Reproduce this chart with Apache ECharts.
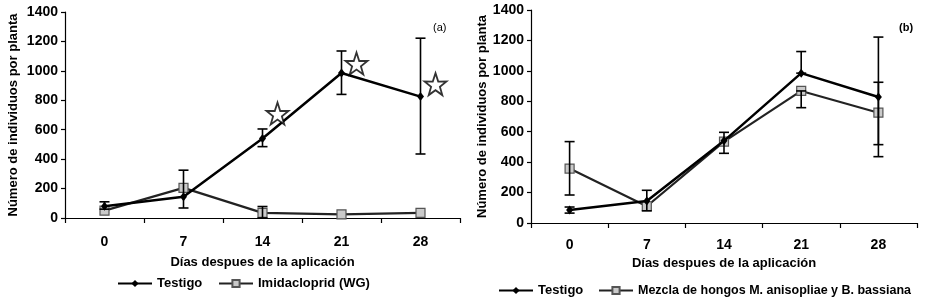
<!DOCTYPE html>
<html><head><meta charset="utf-8">
<script src="https://cdn.jsdelivr.net/npm/echarts@6/dist/echarts.min.js"></script>
<style>html,body{margin:0;padding:0;background:#fff}#c{width:925px;height:300px}</style>
</head><body><div id="c"></div>
<script>
const categories = ['0','7','14','21','28'];
// Panel (a)
const testigoA = [80, 145, 540, 985, 825];
const testigoA_err = [[0,60,110],[2,485,605],[3,840,1135],[4,435,1222]];
const imidA = [50, 205, 35, 25, 35];
const imidA_err = [[1,68,325],[2,0,78]];
const starsA = [[2,710],[3,1050],[4,910]];
// Panel (b)
const testigoB = [85, 145, 540, 985, 828];
const testigoB_err = [[0,65,105],[3,985,1127],[4,515,1222]];
const mezclaB = [358, 110, 535, 868, 725];
const mezclaB_err = [[0,184,535],[1,80,215],[2,458,596],[3,758,868],[4,436,925]];

const FONT = 'Liberation Sans, Arial, sans-serif';
const STAR = 'path://M50,0 L61.8,35.1 L97.6,34.5 L69,56.9 L79.4,90.9 L50,70.5 L20.6,90.9 L31,56.9 L2.4,34.5 L38.2,35.1 Z';

function errSeries(data, xi, yi){
  return {type:'custom', xAxisIndex:xi, yAxisIndex:yi, data:data, z:5, silent:true,
    encode:{x:0,y:[1,2]},
    renderItem:function(params, api){
      const x = api.value(0), lo = api.value(1), hi = api.value(2);
      const a = api.coord([x, lo]), b = api.coord([x, hi]);
      const w = 5, st = {stroke:'#000', lineWidth:1.6};
      return {type:'group', children:[
        {type:'line', shape:{x1:a[0],y1:a[1],x2:b[0],y2:b[1]}, style:st},
        {type:'line', shape:{x1:a[0]-w,y1:a[1],x2:a[0]+w,y2:a[1]}, style:st},
        {type:'line', shape:{x1:b[0]-w,y1:b[1],x2:b[0]+w,y2:b[1]}, style:st}
      ]};
    }};
}
function xAx(gi, margin, gap){
  return {type:'category', gridIndex:gi, data:categories, boundaryGap:true,
    axisLine:{lineStyle:{color:'#000',width:1.2}},
    axisTick:{show:true, length:5, lineStyle:{color:'#000',width:1.2}},
    axisLabel:{color:'#000', fontFamily:FONT, fontWeight:'bold', fontSize:14, margin:margin},
    name:'Días despues de la aplicación', nameLocation:'middle', nameGap:gap,
    nameTextStyle:{color:'#000', fontFamily:FONT, fontWeight:'bold', fontSize:13},
    splitLine:{show:false}};
}
function yAx(gi, gap){
  return {type:'value', gridIndex:gi, min:0, max:1400, interval:200,
    axisLine:{show:true, lineStyle:{color:'#000',width:1.2}},
    axisTick:{show:true, length:4, lineStyle:{color:'#000',width:1.2}},
    axisLabel:{color:'#000', fontFamily:FONT, fontWeight:'bold', fontSize:14, margin:7,
      formatter:function(v){return String(v);}},
    splitLine:{show:false},
    name:'Número de individuos por planta', nameLocation:'middle', nameGap:gap,
    nameTextStyle:{color:'#000', fontFamily:FONT, fontWeight:'bold', fontSize:13}};
}
function lineTest(name, data, xi, yi){
  return {name:name, type:'line', xAxisIndex:xi, yAxisIndex:yi, data:data, z:4,
    symbol:'diamond', symbolSize:[7,9], lineStyle:{color:'#000', width:2.5},
    itemStyle:{color:'#000'}};
}
function lineSq(name, data, xi, yi){
  return {name:name, type:'line', xAxisIndex:xi, yAxisIndex:yi, data:data, z:3,
    symbol:'rect', symbolSize:9, lineStyle:{color:'#222', width:2.2},
    itemStyle:{color:'#cacaca', borderColor:'#555', borderWidth:1.2}};
}
const legendText = {color:'#000', fontFamily:FONT, fontWeight:'bold', fontSize:13};
function leg(name, left, top, fs){
  return {data:[name], left:left, top:top, itemWidth:34, itemHeight:9, itemGap:0,
    textStyle:Object.assign({}, legendText, {fontSize:fs}), selectedMode:false, padding:0};
}

const chart = echarts.init(document.getElementById('c'), null, {renderer:'canvas'});
chart.setOption({
  animation:false,
  backgroundColor:'#fff',
  grid:[
    {left:65, right:465, top:12, bottom:82},
    {left:531, right:8, top:10, bottom:77}
  ],
  xAxis:[xAx(0, 17, 38), xAx(1, 15, 26)],
  yAxis:[yAx(0, 45), yAx(1, 39)],
  title:[
    {text:'(a)', left:428, top:17, textStyle:{fontSize:11, fontWeight:'normal', fontFamily:FONT, color:'#000'}},
    {text:'(b)', left:894, top:17, textStyle:{fontSize:11, fontWeight:'bold', fontFamily:FONT, color:'#000'}}
  ],
  legend:[
    leg('Testigo', 117, 277, 13),
    leg('Imidacloprid (WG)', 218, 277, 13),
    leg('Testigo ', 498, 284, 13),
    leg('Mezcla de hongos M. anisopliae y B. bassiana', 598, 284, 12.5)
  ],
  series:[
    lineSq('Imidacloprid (WG)', imidA, 0, 0),
    lineTest('Testigo', testigoA, 0, 0),
    errSeries(testigoA_err, 0, 0),
    errSeries(imidA_err, 0, 0),
    {type:'scatter', xAxisIndex:0, yAxisIndex:0, data:starsA, symbol:STAR, symbolSize:22,
     symbolOffset:[15,0], itemStyle:{color:'#fff', borderColor:'#000', borderWidth:1.8}, silent:true, z:6},
    lineSq('Mezcla de hongos M. anisopliae y B. bassiana', mezclaB, 1, 1),
    lineTest('Testigo ', testigoB, 1, 1),
    errSeries(testigoB_err, 1, 1),
    errSeries(mezclaB_err, 1, 1)
  ]
});
</script></body></html>
